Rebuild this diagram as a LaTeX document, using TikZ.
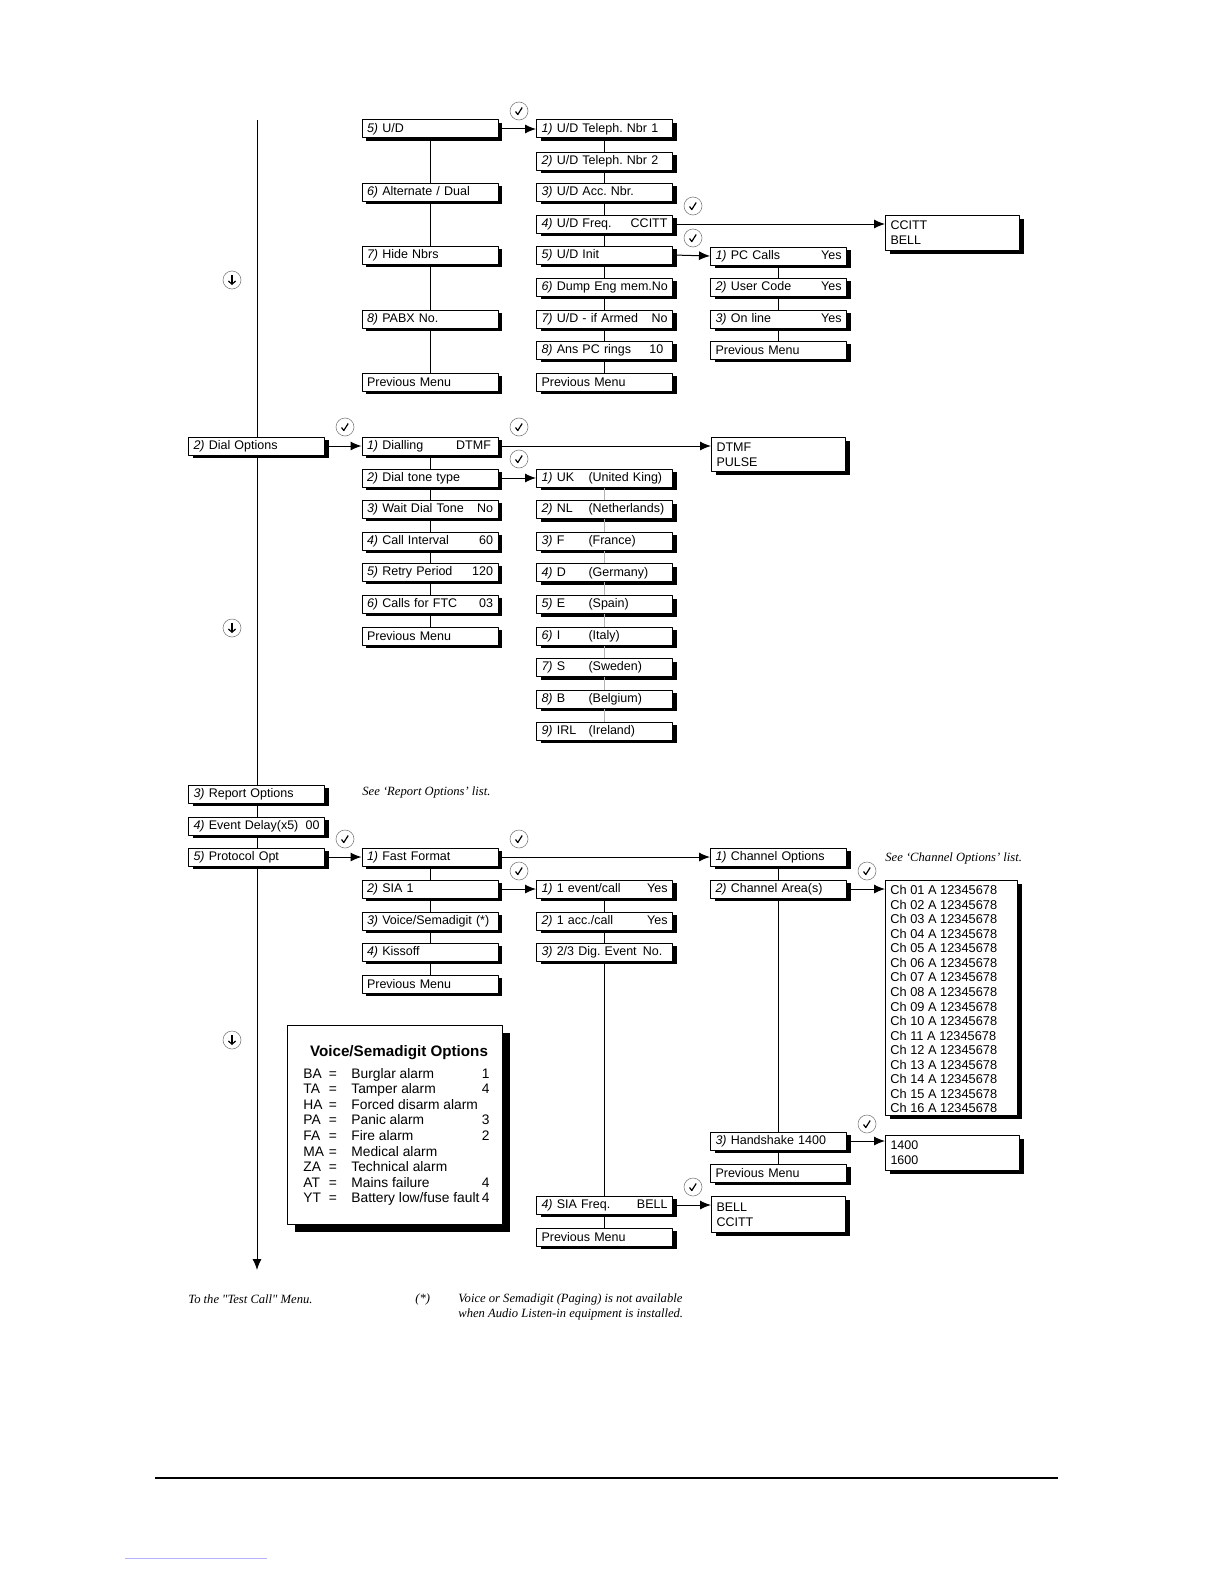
\documentclass[tikz,border=0pt]{standalone}
\usepackage{fontspec}
\setmainfont{Liberation Sans}
\newfontfamily\notefont{Liberation Serif}
\usetikzlibrary{arrows.meta,shadows,backgrounds}
\newcommand\nr[1]{\textit{#1)}}
\newcommand\val[1]{\hskip 0pt plus 1filll #1}
\frenchspacing

\begin{document}
\begin{tikzpicture}[x=0.5pt, y=-0.5pt, line join=round, >={Latex[length=5.5pt,width=4.5pt]},
  font=\fontsize{6.25}{7.4}\selectfont,
  menu/.style={draw, fill=white, line width=0.5pt, text width=63pt, minimum height=9pt,
    inner xsep=2.5pt, inner ysep=0pt, align=left,
    drop shadow={shadow xshift=2pt, shadow yshift=-1.5pt, fill=black, opacity=1}},
  listbox/.style={menu, anchor=north west, text width=62pt, inner ysep=2pt, minimum height=#1},
  link/.style={line width=0.5pt},
  tick/.style={gray, line width=0.3pt},
  note/.style={font=\notefont\itshape\fontsize{6.3}{7.5}\selectfont, anchor=west, inner sep=0pt, align=left}]
\coordinate (top) at (257,120);
\coordinate (end) at (257,1270);
% main menu column
\node[menu] (dial) at (256.5,446) {\nr{2} Dial Options};
\node[menu] (report) at (256.5,794) {\nr{3} Report Options};
\node[menu] (delay) at (256.5,826) {\nr{4} Event Delay(x5)\val{00}};
\node[menu] (proto) at (256.5,857) {\nr{5} Protocol Opt};
% second column
\node[menu] (ud) at (430,129) {\nr{5} U/D};
\node[menu] (alt) at (430,192) {\nr{6} Alternate / Dual};
\node[menu] (hide) at (430,255) {\nr{7} Hide Nbrs};
\node[menu] (pabx) at (430,319) {\nr{8} PABX No.};
\node[menu] (udprev) at (430,382) {Previous Menu};
\node[menu] (dialling) at (430,446) {\nr{1} Dialling\val{DTMF\,}};
\node[menu] (tone) at (430,478) {\nr{2} Dial tone type};
\node[menu] (wait) at (430,509) {\nr{3} Wait Dial Tone\val{No}};
\node[menu] (interval) at (430,541) {\nr{4} Call Interval\val{60}};
\node[menu] (retry) at (430,572) {\nr{5} Retry Period\val{120}};
\node[menu] (ftc) at (430,604) {\nr{6} Calls for FTC\val{03}};
\node[menu] (dialprev) at (430,636) {Previous Menu};
\node[menu] (fast) at (430,857) {\nr{1} Fast Format};
\node[menu] (sia) at (430,889) {\nr{2} SIA 1};
\node[menu] (voice) at (430,921) {\mbox{\nr{3} Voice/Semadigit (*)}};
\node[menu] (kiss) at (430,952) {\nr{4} Kissoff};
\node[menu] (protoprev) at (430,984) {Previous Menu};
% third column
\node[menu] (tel1) at (604.5,129) {\nr{1} U/D Teleph. Nbr 1};
\node[menu] (tel2) at (604.5,161) {\nr{2} U/D Teleph. Nbr 2};
\node[menu] (acc) at (604.5,192) {\nr{3} U/D Acc. Nbr.};
\node[menu] (freq) at (604.5,224) {\nr{4} U/D Freq.\val{CCITT}};
\node[menu] (init) at (604.5,255) {\nr{5} U/D Init};
\node[menu] (dump) at (604.5,287) {\mbox{\nr{6} Dump Eng mem.No}};
\node[menu] (armed) at (604.5,319) {\nr{7} U/D - if Armed\val{No}};
\node[menu] (rings) at (604.5,350) {\nr{8} Ans PC rings\val{10\,\,}};
\node[menu] (telprev) at (604.5,382) {Previous Menu};
\foreach \c/\n [count=\i] in {UK/United King,NL/Netherlands,F/France,D/Germany,E/Spain,I/Italy,S/Sweden,B/Belgium,IRL/Ireland}
  \node[menu] (cty\i) at (604.5,{478+31.625*(\i-1)}) {\makebox[23.5pt][l]{\nr{\i} \c}(\n)};
\node[menu] (ev1) at (604.5,889) {\nr{1} 1 event/call\val{Yes}};
\node[menu] (ev2) at (604.5,921) {\nr{2} 1 acc./call\val{Yes}};
\node[menu] (ev3) at (604.5,952) {\mbox{\nr{3} 2/3 Dig. Event\, No.}};
\node[menu] (siafreq) at (604.5,1205) {\nr{4} SIA Freq.\val{BELL}};
\node[menu] (siaprev) at (604.5,1237) {Previous Menu};
% fourth column
\node[menu] (pc) at (778.5,256) {\nr{1} PC Calls\val{Yes}};
\node[menu] (code) at (778.5,287) {\nr{2} User Code\val{Yes}};
\node[menu] (online) at (778.5,319) {\nr{3} On line\val{Yes}};
\node[menu] (pcprev) at (778.5,350) {Previous Menu};
\node[listbox=17pt] (dtmf) at (711,437) {DTMF\\PULSE};
\node[menu] (chopt) at (778.5,857) {\nr{1} Channel Options};
\node[menu] (charea) at (778.5,889) {\nr{2} Channel Area(s)};
\node[menu] (hand) at (778.5,1141) {\nr{3} Handshake 1400};
\node[menu] (chprev) at (778.5,1173) {Previous Menu};
\node[listbox=18pt] (bell) at (711,1196) {BELL\\CCITT};
% fifth column
\node[listbox=17.5pt] (ccitt) at (885,215) {CCITT\\BELL};
\node[listbox=117.5pt, text width=61pt] (chlist) at (885,880) {};
\foreach \i in {1,...,16}
  \node[anchor=base west, inner sep=0pt, font=\fontsize{6.4}{7.4}\selectfont] (ch\i) at (890,{894.6+14.55*(\i-1)}) {Ch \ifnum\i<10 0\fi\i\ A 12345678};
\node[listbox=17.5pt] (hz) at (885,1135) {1400\\1600};
% option list
\node[draw, fill=white, line width=0.5pt, anchor=north west, minimum width=107.5pt, minimum height=99.5pt,
  drop shadow={shadow xshift=3.5pt, shadow yshift=-3.5pt, fill=black, opacity=1}] (vsbox) at (287,1025) {};
\node[anchor=base, font=\bfseries\fontsize{7.6}{9}\selectfont] (vstitle) at (399,1056) {Voice/Semadigit Options};
\foreach \k/\d/\n [count=\i] in {BA/Burglar alarm/1,TA/Tamper alarm/4,HA/Forced disarm alarm/{},PA/Panic alarm/3,FA/Fire alarm/2,MA/Medical alarm/{},ZA/Technical alarm/{},AT/Mains failure/4,YT/{Battery low/fuse fault}/4}
{
  \begin{scope}[font=\fontsize{6.9}{8}\selectfont, every node/.style={inner sep=0pt}]
  \node[anchor=base west] (vk\i) at (303,{1078+15.6*(\i-1)}) {\k};
  \node[anchor=base] (ve\i) at (333,{1078+15.6*(\i-1)}) {=};
  \node[anchor=base west] (vd\i) at (351,{1078+15.6*(\i-1)}) {\d};
  \node[anchor=base east] (vn\i) at (490,{1078+15.6*(\i-1)}) {\n};
  \end{scope}
}
% notes
\node[note] (seerep) at (362,792) {See ‘Report Options’ list.};
\node[note] (seech) at (885,858) {See ‘Channel Options’ list.};
\node[note] (testcall) at (188,1299) {To the "Test Call" Menu.};
\node[note] (star) at (415,1299) {(*)};
\node[note] (avail) at (458,1306.5) {Voice or Semadigit (Paging) is not available\\when Audio Listen-in equipment is installed.};
% connectors
\begin{scope}[on background layer]
\draw[link,->] (top) -- (end);
\end{scope}
\foreach \a/\b in {ud/alt,alt/hide,hide/pabx,pabx/udprev,dialling/tone,tone/wait,wait/interval,interval/retry,retry/ftc,ftc/dialprev,
  fast/sia,sia/voice,voice/kiss,kiss/protoprev,tel1/tel2,tel2/acc,acc/freq,freq/init,init/dump,dump/armed,armed/rings,rings/telprev,
  ev1/ev2,ev2/ev3,ev3/siafreq,siafreq/siaprev,pc/code,code/online,online/pcprev,chopt/charea,charea/hand,hand/chprev}
  \draw[link] (\a.south) -- (\b.north);
\foreach \i [evaluate=\i as \j using int(\i+1)] in {1,...,8}
  \draw[link, gray!60] (cty\i.south) -- (cty\j.north);
\foreach \a/\b in {ud/tel1,init/pc,dial/dialling,tone/cty1,proto/fast,sia/ev1}
  \draw[link,->] (\a.east) -- (\b.west);
\foreach \a/\b in {freq/ccitt,dialling/dtmf,fast/chopt,charea/chlist,hand/hz,siafreq/bell}
  \draw[link,->] (\a.east) -- (\a.east -| \b.west);
% check marks and down arrows
\foreach \x/\y in {519/111,693/206,693/238,345/427,519/427,519/459,345/839,519/839,519/871,867/871,867/1124,693/1187}
{
  \draw[tick] (\x,\y) circle (4.5pt);
  \draw[line width=0.6pt] (\x-3.5,\y+0.5) -- (\x-1.2,\y+3.5) -- (\x+3.2,\y-3.5);
}
\foreach \y in {280,628,1040}
{
  \draw[tick] (232,\y) circle (4.5pt);
  \draw[line width=0.6pt, -{Straight Barb[length=1.6pt,width=3.6pt]}] (232,\y-5) -- (232,\y+5);
}
% page rules
\draw[line width=0.6pt] (155,1478) -- (1058,1478);
\draw[line width=0.3pt, blue!30] (125,1558) -- (267,1558);
\pgfresetboundingbox
\path[use as bounding box] (0,0) rectangle (1224,1584);
\end{tikzpicture}
\end{document}
